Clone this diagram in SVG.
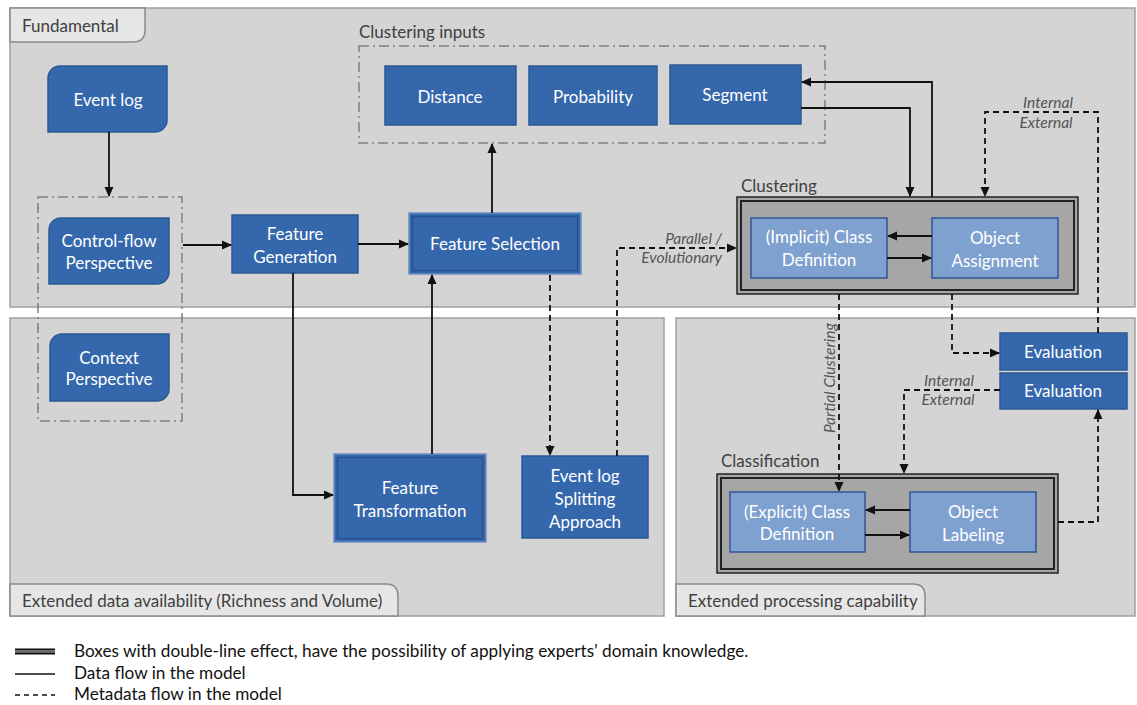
<svg xmlns="http://www.w3.org/2000/svg" width="1137" height="705" viewBox="0 0 1137 705">
<style>
  text { font-family: Lato, "Open Sans", "Liberation Sans", sans-serif; }
  .panel { fill: #d4d4d4; stroke: #a0a0a0; stroke-width: 1.5; }
  .tab { fill: #e6e6e6; stroke: #8a8a8a; stroke-width: 1.5; }
  .tabtxt { font-size: 17px; fill: #404040; }
  .sec { font-size: 17px; fill: #404040; }
  .dd { fill: none; stroke: #7f7f7f; stroke-width: 1.5; stroke-dasharray: 10 4 2 4; }
  .blue { fill: #3567ad; stroke: #2b5893; stroke-width: 1.5; }
  .lblue { fill: #7fa1d0; stroke: #2f5597; stroke-width: 1.5; }
  .dblout { fill: #3567ad; stroke: #6f8fc2; stroke-width: 1.5; }
  .dblin { fill: none; stroke: #2a5090; stroke-width: 1.5; }
  .grp { fill: #a6a6a6; stroke: #222; stroke-width: 1.5; }
  .grpin { fill: none; stroke: #222; stroke-width: 2; }
  .nt { font-size: 17px; fill: #ffffff; text-anchor: middle; }
  .solid { fill: none; stroke: #111; stroke-width: 1.8; }
  .dash { fill: none; stroke: #111; stroke-width: 1.8; stroke-dasharray: 6 4; }
  .it { font-size: 15.5px; font-style: italic; fill: #555; }
  .leg { font-size: 17.2px; fill: #111; }
</style>
<defs>
  <marker id="arr" markerUnits="userSpaceOnUse" markerWidth="10" markerHeight="10" refX="9" refY="5" orient="auto">
    <path d="M0,0.5 L10,5 L0,9.5 z" fill="#111"/>
  </marker>
</defs>
<rect width="1137" height="705" fill="#ffffff"/>

<g id="panels">
  <rect class="panel" x="10" y="8" width="1125" height="299"/>
  <path class="tab" d="M10,8 H145 V30 Q145,42 133,42 H10 Z"/>
  <text class="tabtxt" x="22" y="32">Fundamental</text>
  <rect class="panel" x="10" y="318" width="654" height="298"/>
  <path class="tab" d="M10,616 V584 H386 Q398,584 398,596 V616 Z"/>
  <text class="tabtxt" x="22" y="607">Extended data availability (Richness and Volume)</text>
  <rect class="panel" x="676" y="318" width="459" height="298"/>
  <path class="tab" d="M676,616 V584 H913 Q925,584 925,596 V616 Z"/>
  <text class="tabtxt" x="688" y="607">Extended processing capability</text>
</g>

<g id="groups">
  <rect class="dd" x="38" y="197" width="144" height="224"/>
  <text class="sec" x="359" y="38">Clustering inputs</text>
  <rect class="dd" x="359" y="46" width="466" height="97"/>
</g>

<g id="event-log">
  <path class="blue" d="M60,66 H167 V120 A12,12 0 0 1 155,132 H48 V78 A12,12 0 0 1 60,66 Z"/>
  <text class="nt" x="108" y="106">Event log</text>
</g>
<g id="control-flow">
  <path class="blue" d="M61,218 H169 V272 A12,12 0 0 1 157,284 H49 V230 A12,12 0 0 1 61,218 Z"/>
  <text class="nt" x="109" y="247">Control-flow</text>
  <text class="nt" x="109" y="269">Perspective</text>
</g>
<g id="context">
  <path class="blue" d="M62,334 H169 V389 A12,12 0 0 1 157,401 H50 V346 A12,12 0 0 1 62,334 Z"/>
  <text class="nt" x="109" y="364">Context</text>
  <text class="nt" x="109" y="385">Perspective</text>
</g>
<g id="feature-generation">
  <rect class="blue" x="232" y="215" width="126" height="58"/>
  <text class="nt" x="295" y="240">Feature</text>
  <text class="nt" x="295" y="263">Generation</text>
</g>
<g id="feature-selection">
  <rect class="dblout" x="409" y="213" width="172" height="61"/>
  <rect class="dblin" x="412.5" y="216.5" width="165" height="54"/>
  <text class="nt" x="495" y="250">Feature Selection</text>
</g>
<g id="distance">
  <rect class="blue" x="385" y="66" width="131" height="59"/>
  <text class="nt" x="450" y="103">Distance</text>
</g>
<g id="probability">
  <rect class="blue" x="529" y="66" width="128" height="59"/>
  <text class="nt" x="593" y="103">Probability</text>
</g>
<g id="segment">
  <rect class="blue" x="670" y="65" width="131" height="59"/>
  <text class="nt" x="735" y="101">Segment</text>
</g>
<g id="clustering">
  <text class="sec" x="741" y="192">Clustering</text>
  <rect class="grp" x="737" y="197" width="341" height="97"/>
  <rect class="grpin" x="741" y="201" width="333" height="89"/>
</g>
<g id="implicit-class">
  <rect class="lblue" x="751" y="218" width="136" height="60"/>
  <text class="nt" x="819" y="243">(Implicit) Class</text>
  <text class="nt" x="819" y="266">Definition</text>
</g>
<g id="object-assignment">
  <rect class="lblue" x="932" y="218" width="126" height="60"/>
  <text class="nt" x="995" y="244">Object</text>
  <text class="nt" x="995" y="267">Assignment</text>
</g>
<g id="evaluation-1">
  <rect class="blue" x="1000" y="333" width="127" height="37"/>
  <text class="nt" x="1063" y="358">Evaluation</text>
</g>
<g id="evaluation-2">
  <rect class="blue" x="1000" y="373" width="127" height="36"/>
  <text class="nt" x="1063" y="397">Evaluation</text>
</g>
<g id="feature-transformation">
  <rect class="dblout" x="334" y="454" width="152" height="88"/>
  <rect class="dblin" x="337.5" y="457.5" width="145" height="81"/>
  <text class="nt" x="410" y="494">Feature</text>
  <text class="nt" x="410" y="517">Transformation</text>
</g>
<g id="event-log-splitting">
  <rect class="blue" x="522" y="456" width="126" height="82"/>
  <text class="nt" x="585" y="482">Event log</text>
  <text class="nt" x="585" y="505">Splitting</text>
  <text class="nt" x="585" y="528">Approach</text>
</g>
<g id="classification">
  <text class="sec" x="721" y="467">Classification</text>
  <rect class="grp" x="717" y="474" width="341" height="99"/>
  <rect class="grpin" x="721" y="478" width="333" height="91"/>
</g>
<g id="explicit-class">
  <rect class="lblue" x="730" y="492" width="135" height="60"/>
  <text class="nt" x="797" y="518">(Explicit) Class</text>
  <text class="nt" x="797" y="540">Definition</text>
</g>
<g id="object-labeling">
  <rect class="lblue" x="910" y="492" width="126" height="60"/>
  <text class="nt" x="973" y="518">Object</text>
  <text class="nt" x="973" y="541">Labeling</text>
</g>

<g id="connectors">
  <path class="solid" d="M109,132 V196" marker-end="url(#arr)"/>
  <path class="solid" d="M183,245 H231" marker-end="url(#arr)"/>
  <path class="solid" d="M358,244 H408" marker-end="url(#arr)"/>
  <path class="solid" d="M492,213 V144" marker-end="url(#arr)"/>
  <path class="solid" d="M293,273 V495 H333" marker-end="url(#arr)"/>
  <path class="solid" d="M432,454 V275" marker-end="url(#arr)"/>
  <path class="dash" d="M550,275 V455" marker-end="url(#arr)"/>
  <path class="dash" d="M617,456 V248 H736" marker-end="url(#arr)"/>
  <path class="solid" d="M932,197 V82 H802" marker-end="url(#arr)"/>
  <path class="solid" d="M801,108 H910 V196" marker-end="url(#arr)"/>
  <path class="dash" d="M1098,333 V112 H985 V196" marker-end="url(#arr)"/>
  <path class="dash" d="M839,294 V491" marker-end="url(#arr)"/>
  <path class="dash" d="M952,294 V353 H999" marker-end="url(#arr)"/>
  <path class="dash" d="M1000,390 H904 V473" marker-end="url(#arr)"/>
  <path class="dash" d="M1058,522 H1098 V410" marker-end="url(#arr)"/>
  <path class="solid" d="M932,236 H888" marker-end="url(#arr)"/>
  <path class="solid" d="M887,258 H931" marker-end="url(#arr)"/>
  <path class="solid" d="M910,510 H866" marker-end="url(#arr)"/>
  <path class="solid" d="M865,535 H909" marker-end="url(#arr)"/>
  <text class="it" x="722" y="244" text-anchor="end">Parallel /</text>
  <text class="it" x="722" y="263" text-anchor="end">Evolutionary</text>
  <text class="it" x="1048" y="108" text-anchor="middle">Internal</text>
  <text class="it" x="1046" y="128" text-anchor="middle">External</text>
  <text class="it" x="949" y="386" text-anchor="middle">Internal</text>
  <text class="it" x="948" y="405" text-anchor="middle">External</text>
  <text class="it" transform="translate(835,378) rotate(-90)" text-anchor="middle">Partial Clustering</text>
</g>

<g id="legend">
  <line x1="15" y1="649.5" x2="55" y2="649.5" stroke="#111" stroke-width="2"/>
  <line x1="15" y1="651.5" x2="55" y2="651.5" stroke="#666" stroke-width="2"/>
  <line x1="15" y1="653.5" x2="55" y2="653.5" stroke="#111" stroke-width="2"/>
  <text class="leg" x="74" y="657">Boxes with double-line effect, have the possibility of applying experts’ domain knowledge.</text>
  <line x1="15" y1="674" x2="55" y2="674" stroke="#111" stroke-width="1.5"/>
  <text class="leg" x="74" y="679">Data flow in the model</text>
  <line x1="15" y1="695" x2="55" y2="695" stroke="#111" stroke-width="1.5" stroke-dasharray="5 4"/>
  <text class="leg" x="74" y="700">Metadata flow in the model</text>
</g>
</svg>
